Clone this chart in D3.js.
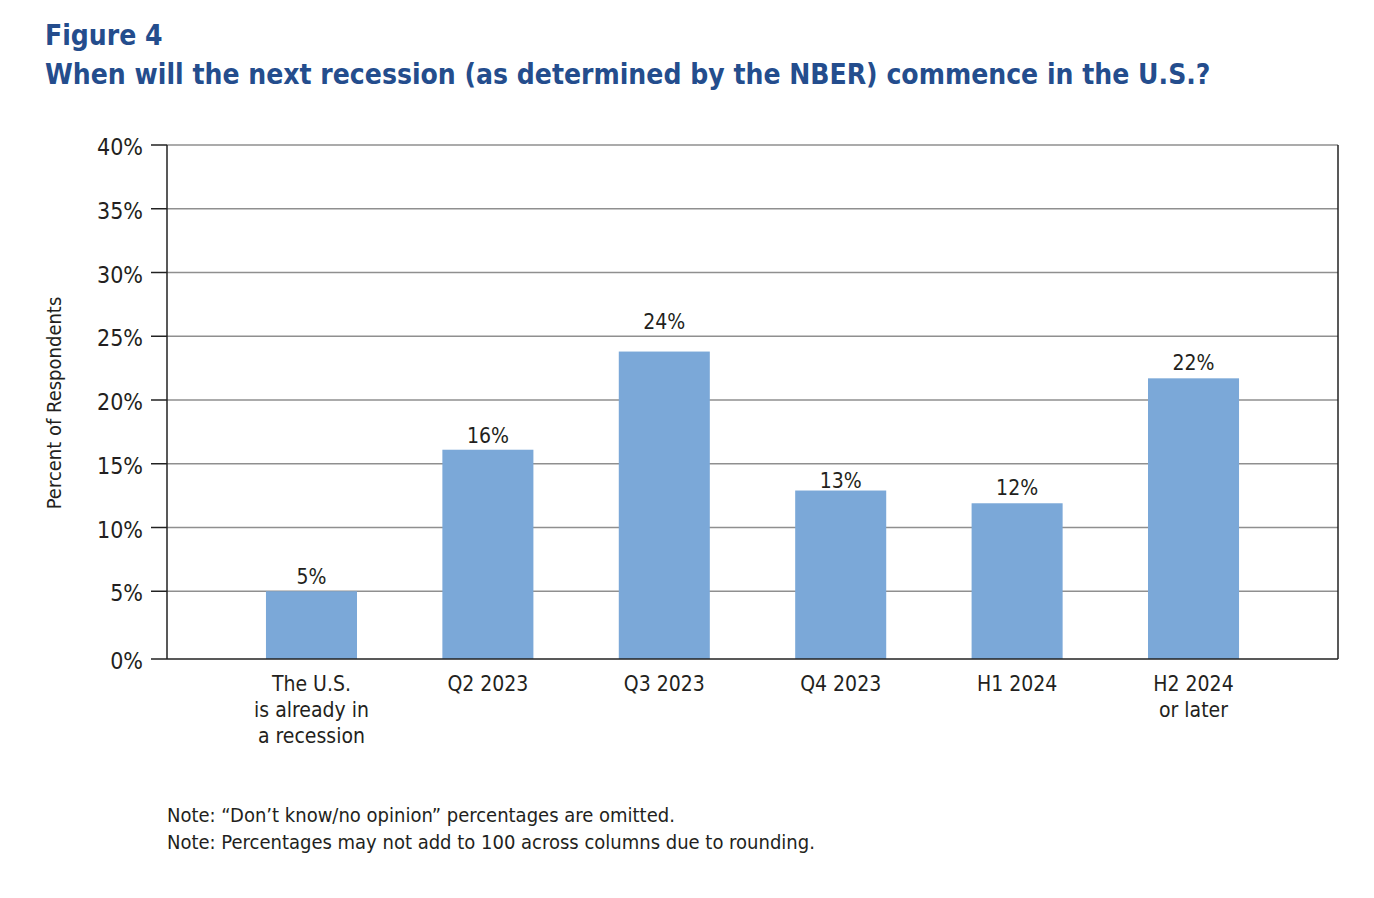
<!DOCTYPE html>
<html>
<head>
<meta charset="utf-8">
<script src="https://cdn.jsdelivr.net/npm/d3@7"></script>
<style>
  html, body { margin: 0; padding: 0; background: #fff; }
  svg { display: block; }
  .f { font-family: "Liberation Sans Narrow", "DejaVu Sans Condensed", Roboto, sans-serif; }
</style>
</head>
<body>
<svg id="chart" width="1374" height="898"></svg>
<script>
const categories = [["The U.S.", "is already in", "a recession"], ["Q2 2023"], ["Q3 2023"], ["Q4 2023"], ["H1 2024"], ["H2 2024", "or later"]];
const values = [5.0, 16.1, 23.8, 12.9, 11.9, 21.7];
const valueLabels = ["5%", "16%", "24%", "13%", "12%", "22%"];
const yTicks = [0, 5, 10, 15, 20, 25, 30, 35, 40];
const titleLines = ["Figure 4", "When will the next recession (as determined by the NBER) commence in the U.S.?"];
const yAxisTitle = "Percent of Respondents";
const notes = ["Note: \u201cDon\u2019t know/no opinion\u201d percentages are omitted.", "Note: Percentages may not add to 100 across columns due to rounding."];

const svg = d3.select("#chart");
const pLeft = 167, pRight = 1338, pTop = 145, pBottom = 659, zeroY = 655;
const labelGap = [7, 7, 23, 3, 8, 8]; // layout: gap between label baseline and bar top
const ids = categories.map((c, i) => i);

const x = d3.scaleBand().domain(ids).range([pLeft, pRight]).paddingInner(0.484).paddingOuter(0.561);
const y = d3.scaleLinear().domain([0, 40]).range([zeroY, pTop]);

// title
svg.append("g").selectAll("text").data(titleLines).join("text")
  .attr("class", "f")
  .attr("x", 45).attr("y", (d, i) => 45 + i * 39)
  .attr("fill", "#244d8d").attr("font-weight", "bold").attr("font-size", 28)
  .text(d => d);

// gridlines
svg.append("g").selectAll("line").data(yTicks.filter(t => t > 0)).join("line")
  .attr("x1", pLeft).attr("x2", pRight)
  .attr("y1", d => y(d)).attr("y2", d => y(d))
  .attr("stroke", "#8f8f8f").attr("stroke-width", 1.3);

// bars
svg.append("g").selectAll("rect").data(values).join("rect")
  .attr("x", (d, i) => x(i)).attr("width", x.bandwidth())
  .attr("y", d => y(d)).attr("height", d => pBottom - y(d))
  .attr("fill", "#7ba8d8");

// frame
svg.append("line").attr("x1", pLeft).attr("x2", pLeft).attr("y1", pTop).attr("y2", pBottom).attr("stroke", "#222").attr("stroke-width", 1.5);
svg.append("line").attr("x1", pRight).attr("x2", pRight).attr("y1", pTop).attr("y2", pBottom).attr("stroke", "#222").attr("stroke-width", 1.5);
svg.append("line").attr("x1", pLeft).attr("x2", pRight).attr("y1", pBottom).attr("y2", pBottom).attr("stroke", "#222").attr("stroke-width", 1.5);

// y ticks
const yt = svg.append("g").selectAll("g").data(yTicks).join("g");
yt.append("line").attr("x1", 151).attr("x2", pLeft)
  .attr("y1", d => d === 0 ? pBottom : y(d)).attr("y2", d => d === 0 ? pBottom : y(d))
  .attr("stroke", "#222").attr("stroke-width", 1.5);
yt.append("text").attr("class", "f")
  .attr("x", 143).attr("y", d => (d === 0 ? pBottom : y(d)) + 10)
  .attr("text-anchor", "end").attr("font-size", 23).attr("fill", "#231f20")
  .text(d => d + "%");

// y axis title
svg.append("text").attr("class", "f")
  .attr("transform", "translate(61,403) rotate(-90)")
  .attr("text-anchor", "middle").attr("font-size", 20).attr("fill", "#231f20")
  .text(yAxisTitle);

// value labels
svg.append("g").selectAll("text").data(values).join("text")
  .attr("class", "f")
  .attr("x", (d, i) => x(i) + x.bandwidth() / 2)
  .attr("y", (d, i) => y(d) - labelGap[i])
  .attr("text-anchor", "middle").attr("font-size", 21).attr("fill", "#231f20")
  .text((d, i) => valueLabels[i]);

// x labels
const xl = svg.append("g").selectAll("text").data(categories).join("text")
  .attr("class", "f")
  .attr("x", (d, i) => x(i) + x.bandwidth() / 2)
  .attr("y", 691)
  .attr("text-anchor", "middle").attr("font-size", 21).attr("fill", "#231f20");
xl.selectAll("tspan").data(d => d).join("tspan")
  .attr("x", function() { return d3.select(this.parentNode).attr("x"); })
  .attr("dy", (d, i) => i === 0 ? 0 : 26)
  .text(d => d);

// notes
svg.append("g").selectAll("text").data(notes).join("text")
  .attr("class", "f")
  .attr("x", 167).attr("y", (d, i) => 822 + i * 27)
  .attr("font-size", 20).attr("fill", "#231f20")
  .text(d => d);
</script>
</body>
</html>
